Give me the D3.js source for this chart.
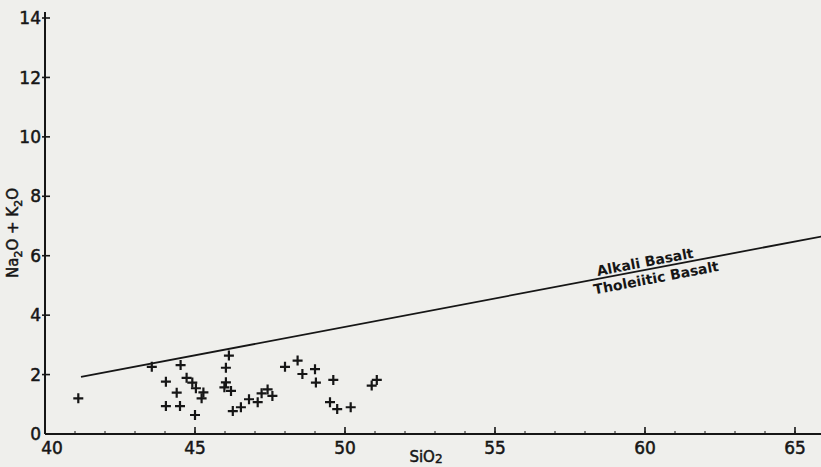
<!DOCTYPE html>
<html>
<head>
<meta charset="utf-8">
<script src="https://cdn.jsdelivr.net/npm/d3@7"></script>
<style>
  html, body { margin: 0; padding: 0; background: #efefec; }
  svg { display: block; font-family: "DejaVu Sans", Roboto, sans-serif; }
</style>
</head>
<body>
<div id="chart"></div>
<script>
// SiO2 vs total alkali, samples
const silica = [41.11, 43.56, 44.52, 44.03, 44.72, 44.91, 45.03, 44.39, 45.28, 45.22, 44.03, 44.50,
    45.00, 46.13, 46.03, 46.03, 45.98, 46.20, 48.00, 48.42, 48.58, 49.00, 49.03, 49.61,
    47.42, 47.22, 47.58, 46.80, 47.09, 46.53, 46.26, 49.50, 49.74, 50.19, 50.89, 51.06];
const alkali = [1.20, 2.26, 2.32, 1.76, 1.89, 1.73, 1.54, 1.39, 1.40, 1.20, 0.94, 0.94,
    0.64, 2.64, 2.23, 1.74, 1.57, 1.45, 2.26, 2.47, 2.02, 2.18, 1.73, 1.82,
    1.50, 1.37, 1.28, 1.17, 1.07, 0.90, 0.77, 1.07, 0.84, 0.90, 1.63, 1.82];

// alkali / tholeiitic divide
const divideX = [41.2, 65.9];
const divideY = [1.92, 6.65];

const xTicks = [40, 45, 50, 55, 60, 65];
const yTicks = [0, 2, 4, 6, 8, 10, 12, 14];

const width = 821, height = 467;

const svg = d3.select('#chart')
    .append('svg')
    .attr('width', width)
    .attr('height', height);

const x = d3.scaleLinear().domain([40, 66]).range([45, 825]);
const y = d3.scaleLinear().domain([0, 14]).range([434, 18]);

const ink = '#161616';

// scanned type looks a bit heavy, so give the text a thin outline
const heavy = sel => sel
    .attr('fill', ink)
    .attr('stroke', ink)
    .attr('stroke-width', 0.5);

// axes
const xAxis = svg.append('g').attr('transform', `translate(0,${y(0)})`);
xAxis.append('line')
    .attr('x1', x(40)).attr('x2', width)
    .attr('stroke', ink).attr('stroke-width', 2);
xAxis.selectAll('.minor')
    .data(d3.range(41, 66))
    .join('line')
    .attr('x1', d => x(d)).attr('x2', d => x(d))
    .attr('y1', 0).attr('y2', -3)
    .attr('stroke', ink).attr('stroke-width', 1);
xAxis.selectAll('.major')
    .data(xTicks.slice(1))
    .join('line')
    .attr('x1', d => x(d)).attr('x2', d => x(d))
    .attr('y1', 0).attr('y2', -7)
    .attr('stroke', ink).attr('stroke-width', 1.6);
xAxis.selectAll('text')
    .data(xTicks)
    .join('text')
    .attr('x', d => d === 40 ? x(d) + 7 : x(d))
    .attr('y', 20)
    .attr('text-anchor', 'middle')
    .attr('font-size', '17px')
    .call(heavy)
    .text(d => d);

const yAxis = svg.append('g').attr('transform', `translate(${x(40)},0)`);
yAxis.append('line')
    .attr('y1', y(0)).attr('y2', y(14.2))
    .attr('stroke', ink).attr('stroke-width', 2);
yAxis.selectAll('.major')
    .data(yTicks.slice(1))
    .join('line')
    .attr('y1', d => y(d)).attr('y2', d => y(d))
    .attr('x1', -3).attr('x2', 5)
    .attr('stroke', ink).attr('stroke-width', 1.6);
yAxis.selectAll('text')
    .data(yTicks)
    .join('text')
    .attr('x', -4)
    .attr('y', d => y(d))
    .attr('dy', '0.36em')
    .attr('text-anchor', 'end')
    .attr('font-size', '17px')
    .call(heavy)
    .text(d => d);

// axis titles
const xTitle = svg.append('text')
    .attr('x', 426).attr('y', 462)
    .attr('text-anchor', 'middle')
    .attr('font-size', '15px')
    .call(heavy);
xTitle.append('tspan').text('SiO');
xTitle.append('tspan').attr('font-size', '12px').attr('dy', 1).text('2');

const yTitle = svg.append('text')
    .attr('transform', 'translate(18,233) rotate(-90)')
    .attr('text-anchor', 'middle')
    .attr('font-size', '15px')
    .call(heavy);
yTitle.append('tspan').text('Na');
yTitle.append('tspan').attr('font-size', '11px').attr('dy', 4).text('2');
yTitle.append('tspan').attr('dy', -4).text('O + K');
yTitle.append('tspan').attr('font-size', '11px').attr('dy', 4).text('2');
yTitle.append('tspan').attr('dy', -4).text('O');

// dividing line
const divide = d3.line()
    .x(d => x(d[0]))
    .y(d => y(d[1]));
svg.append('path')
    .datum(d3.zip(divideX, divideY))
    .attr('d', divide)
    .attr('fill', 'none')
    .attr('stroke', ink)
    .attr('stroke-width', 1.8);

const slope = (divideY[1] - divideY[0]) / (divideX[1] - divideX[0]);
const lineAt = v => divideY[0] + slope * (v - divideX[0]);
const angle = Math.atan2(y(lineAt(61)) - y(lineAt(60)), x(61) - x(60)) * 180 / Math.PI;

svg.append('text')
    .attr('transform', `translate(${x(60.03)},${y(lineAt(60.03)) - 3}) rotate(${angle})`)
    .attr('text-anchor', 'middle')
    .attr('font-size', '14px')
    .attr('font-weight', 700)
    .attr('fill', ink)
    .text('Alkali  Basalt');

svg.append('text')
    .attr('transform', `translate(${x(60.4)},${y(lineAt(60.4)) + 15}) rotate(${angle})`)
    .attr('text-anchor', 'middle')
    .attr('font-size', '14px')
    .attr('font-weight', 700)
    .attr('fill', ink)
    .text('Tholeiitic Basalt');

// sample crosses
svg.append('g')
    .selectAll('path')
    .data(d3.zip(silica, alkali))
    .join('path')
    .attr('transform', d => `translate(${x(d[0])},${y(d[1])})`)
    .attr('d', 'M-5,0H5M0,-5V5')
    .attr('stroke', ink)
    .attr('stroke-width', 2.2)
    .attr('fill', 'none');
</script>
</body>
</html>
